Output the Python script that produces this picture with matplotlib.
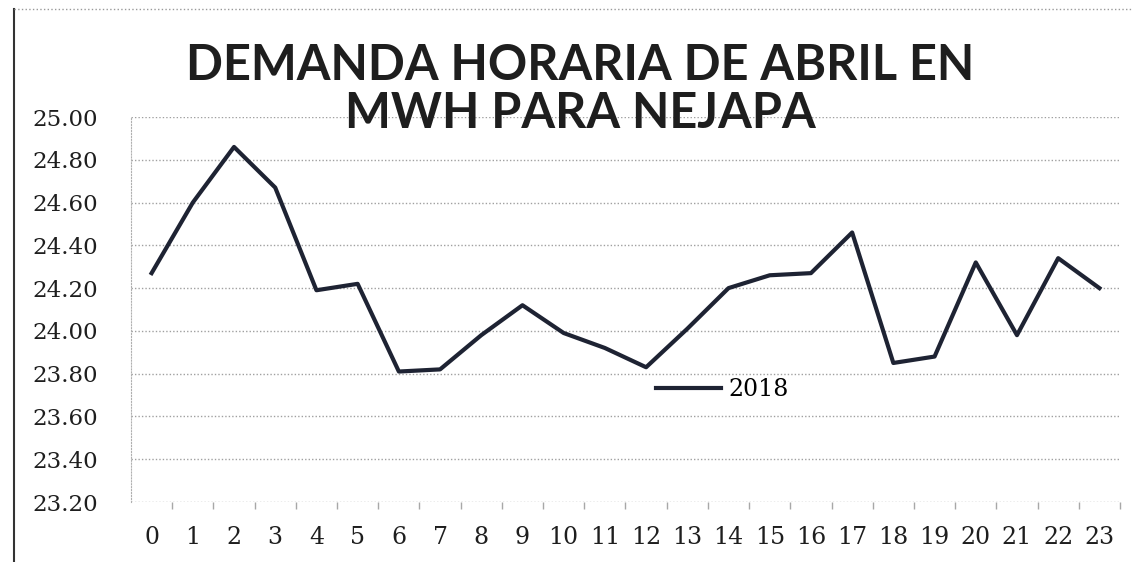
import matplotlib.pyplot as plt
from matplotlib.lines import Line2D

hours = list(range(24))
demand_2018 = [24.27, 24.60, 24.86, 24.67, 24.19, 24.22, 23.81, 23.82,
               23.98, 24.12, 23.99, 23.92, 23.83, 24.01, 24.20, 24.26,
               24.27, 24.46, 23.85, 23.88, 24.32, 23.98, 24.34, 24.20]
y_ticks = [23.20, 23.40, 23.60, 23.80, 24.00, 24.20, 24.40, 24.60, 24.80, 25.00]

W, H = 1133, 562
fig = plt.figure(figsize=(W / 100, H / 100), dpi=100)
ax = fig.add_axes([131 / W, 1 - 502 / H, (1120 - 131) / W, (502 - 117) / H])

ax.plot(hours, demand_2018, color="#1e2333", linewidth=3.0, label="2018")

ax.set_xlim(-0.5, 23.5)
ax.set_ylim(23.20, 25.00)
ax.set_yticks(y_ticks)
ax.set_yticklabels([f"{v:.2f}" for v in y_ticks], fontsize=16.5, family="DejaVu Serif", color="#1e1e1e")
ax.set_xticks(hours)
ax.set_xticklabels([str(h) for h in hours], fontsize=17, family="DejaVu Serif", color="#1e1e1e")
ax.set_xticks([h + 0.5 for h in hours], minor=True)
ax.tick_params(axis="y", length=0, pad=24)
ax.tick_params(axis="x", which="major", length=0, pad=17)
ax.tick_params(axis="x", which="minor", length=5, color="#a8a8a8", width=1)

ax.grid(axis="y", linestyle=(0, (1, 1.5)), color="#a0a0a0", linewidth=1.0)
for side in ["top", "right", "bottom"]:
    ax.spines[side].set_visible(False)
ax.spines["left"].set_color("#b0b0b0")
ax.spines["left"].set_linestyle(":")
ax.set_axisbelow(True)

ax.legend(loc="center", bbox_to_anchor=(0.598, 0.291), frameon=False,
          prop={"family": "DejaVu Serif", "size": 17}, handlelength=2.75, handletextpad=0.3)

fig.text(580 / W, 1 - 65 / H, "DEMANDA HORARIA DE ABRIL EN", ha="center", va="center",
         fontsize=35, fontweight="bold", family="Lato", color="#1e1e1e")
fig.text(580 / W, 1 - 114 / H, "MWH PARA NEJAPA", ha="center", va="center",
         fontsize=35, fontweight="bold", family="Lato", color="#1e1e1e")

# scan border
fig.add_artist(Line2D([14 / W, 14 / W], [0, 1 - 9 / H], color="#333333", linewidth=1.5))
fig.add_artist(Line2D([14 / W, 1], [1 - 9 / H, 1 - 9 / H], color="#999999",
                      linewidth=1.0, linestyle=":"))

fig.savefig("out.png", dpi=100)
